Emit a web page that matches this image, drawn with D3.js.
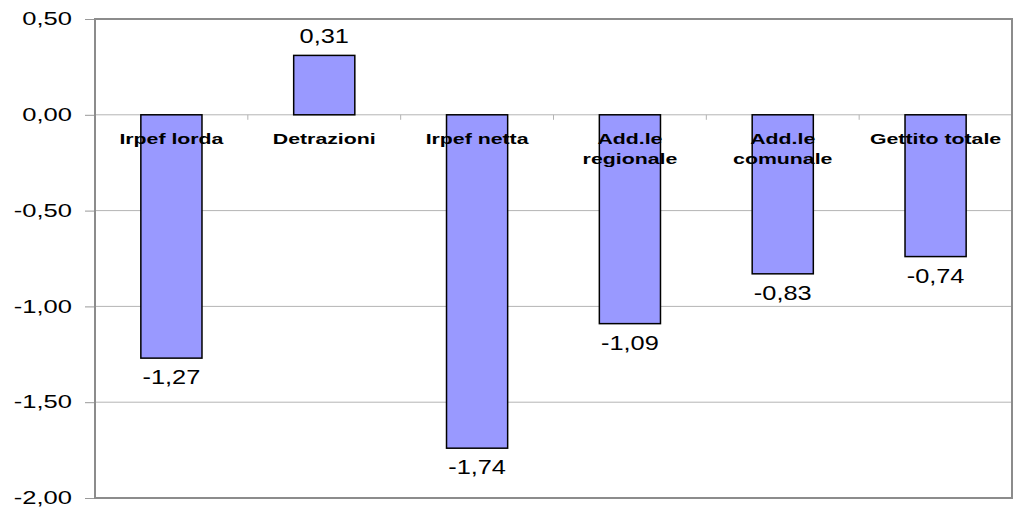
<!DOCTYPE html>
<html>
<head>
<meta charset="utf-8">
<script src="https://cdn.jsdelivr.net/npm/d3@7"></script>
<style>
  body { margin: 0; background: #fff; }
  svg { display: block; font-family: Arial, "Liberation Sans", sans-serif; }
</style>
</head>
<body>
<svg id="chart"></svg>
<script>
const categories = [["Irpef lorda"], ["Detrazioni"], ["Irpef netta"], ["Add.le", "regionale"], ["Add.le", "comunale"], ["Gettito totale"]];
const values = [-1.27, 0.31, -1.74, -1.09, -0.83, -0.74];
const yTicks = [0.5, 0, -0.5, -1, -1.5, -2];

const margin = { top: 19, right: 12, bottom: 16, left: 95 },
    width = 1024 - margin.left - margin.right,
    height = 514 - margin.top - margin.bottom;

// the original text is drawn wide, so stretch it sideways
const stretch = 1.42;

const fmt = v => d3.format(".2f")(v).replace(".", ",").replace("−", "-");

const svg = d3.select("#chart")
    .attr("width", 1024)
    .attr("height", 514)
    .append("g")
    .attr("transform", `translate(${margin.left}, ${margin.top})`);

const x = d3.scaleBand()
    .range([0, width])
    .domain(d3.range(categories.length))
    .paddingInner(0.6)
    .paddingOuter(0.3);

const y = d3.scaleLinear()
    .domain([-2, 0.5])
    .range([height, 0]);

// gridlines
svg.append("g")
    .selectAll("line")
    .data(yTicks)
    .enter()
    .append("line")
    .attr("x1", 0)
    .attr("x2", width)
    .attr("y1", d => y(d))
    .attr("y2", d => y(d))
    .attr("stroke", "#b4b4b4")
    .attr("stroke-width", 1);

// y axis
const yAxis = svg.append("g")
    .call(d3.axisLeft(y).tickValues(yTicks).tickSize(10).tickFormat(fmt));
yAxis.select(".domain").remove();
yAxis.selectAll(".tick line").attr("stroke", "#999");
yAxis.selectAll(".tick text")
    .attr("x", -23 / stretch)
    .attr("transform", `scale(${stretch},1)`)
    .style("font-size", "18px")
    .attr("fill", "#000");

// plot border
svg.append("rect")
    .attr("x", 0)
    .attr("y", 0)
    .attr("width", width)
    .attr("height", height)
    .attr("fill", "none")
    .attr("stroke", "#8c8c8c")
    .attr("stroke-width", 2);

// bars
svg.selectAll(".bar")
    .data(values)
    .enter()
    .append("rect")
    .attr("class", "bar")
    .attr("x", (d, i) => x(i))
    .attr("y", d => y(Math.max(0, d)))
    .attr("width", x.bandwidth())
    .attr("height", d => Math.abs(y(d) - y(0)))
    .attr("fill", "#9999ff")
    .attr("stroke", "#000")
    .attr("stroke-width", 1.5);

// category ticks on the zero line
const step = x.step();
svg.append("g")
    .selectAll("line")
    .data(d3.range(1, categories.length))
    .enter()
    .append("line")
    .attr("x1", i => x(i) - x.paddingInner() * step / 2)
    .attr("x2", i => x(i) - x.paddingInner() * step / 2)
    .attr("y1", y(0))
    .attr("y2", y(0) + 5)
    .attr("stroke", "#b4b4b4");

// category labels
const labels = svg.append("g")
    .selectAll("text")
    .data(categories)
    .enter()
    .append("text")
    .attr("transform", (d, i) => `translate(${x(i) + x.bandwidth() / 2}, ${y(0) + 29}) scale(${stretch},1)`)
    .attr("text-anchor", "middle")
    .style("font-size", "15px")
    .style("font-weight", "bold");
labels.selectAll("tspan")
    .data(d => d)
    .enter()
    .append("tspan")
    .attr("x", 0)
    .attr("dy", (d, i) => i ? 20 : 0)
    .text(d => d);

// value labels
svg.append("g")
    .selectAll("text")
    .data(values)
    .enter()
    .append("text")
    .attr("transform", (d, i) => `translate(${x(i) + x.bandwidth() / 2}, ${d >= 0 ? y(d) - 12 : y(d) + 26}) scale(1.3,1)`)
    .attr("text-anchor", "middle")
    .style("font-size", "19.5px")
    .text(d => fmt(d));
</script>
</body>
</html>
